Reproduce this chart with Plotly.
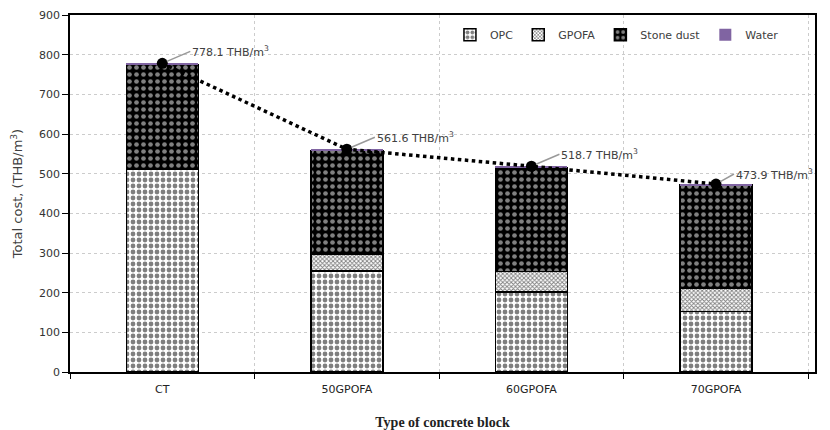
import plotly.graph_objects as go

# Cost breakdown per concrete block type (THB/m3)
blocks = ["CT", "50GPOFA", "60GPOFA", "70GPOFA"]
opc = [512, 255, 202, 152]
gpofa = [0, 42, 51, 60]
stone_dust = [263.5, 262.0, 263.1, 259.3]
water = [2.6, 2.6, 2.6, 2.6]
totals = [778.1, 561.6, 518.7, 473.9]
total_labels = ["778.1 THB/m<sup>3</sup>", "561.6 THB/m<sup>3</sup>",
                "518.7 THB/m<sup>3</sup>", "473.9 THB/m<sup>3</sup>"]

LABEL_FONT = "DejaVu Sans"
TEXT_GREY = "#404040"

fig = go.Figure()

fig.add_trace(go.Bar(
    x=blocks, y=opc, name="OPC",
    marker=dict(color="white", line=dict(color="black", width=1.5),
                pattern=dict(shape=".", fgcolor="black", bgcolor="white",
                             size=6, solidity=0.5)),
))
fig.add_trace(go.Bar(
    x=blocks, y=gpofa, name="GPOFA",
    marker=dict(color="white", line=dict(color="black", width=1.5),
                pattern=dict(shape="x", fgcolor="black", bgcolor="white",
                             size=3, solidity=0.5)),
))
fig.add_trace(go.Bar(
    x=blocks, y=stone_dust, name="Stone dust",
    marker=dict(color="black", line=dict(color="black", width=1.5),
                pattern=dict(shape=".", fgcolor="white", bgcolor="black",
                             size=7, solidity=0.35)),
))
fig.add_trace(go.Bar(
    x=blocks, y=water, name="Water",
    marker=dict(color="#8064A2", line=dict(color="#8064A2", width=0)),
))

fig.add_trace(go.Scatter(
    x=blocks, y=totals, mode="lines+markers",
    line=dict(color="black", width=3.5, dash="dot"),
    marker=dict(color="black", size=11),
    showlegend=False, hoverinfo="skip",
))

offsets = [(28, -12), (28, -12), (28, -12), (18, -10)]
for b, t, lab, (ax, ay) in zip(blocks, totals, total_labels, offsets):
    fig.add_annotation(
        x=b, y=t, text=lab, xanchor="left", yanchor="middle",
        ax=ax, ay=ay, showarrow=True, arrowhead=0, arrowwidth=1.5,
        arrowcolor="#999999", standoff=5,
        font=dict(family=LABEL_FONT, size=11, color=TEXT_GREY),
    )

# page body adds an 8px offset, so the figure is 8px smaller than the window
fig.update_layout(
    barmode="stack",
    bargap=0.61,
    width=822, height=422,
    margin=dict(l=62, r=15, t=7, b=58),
    paper_bgcolor="white",
    plot_bgcolor="white",
    font=dict(family=LABEL_FONT, size=11, color=TEXT_GREY),
    legend=dict(
        orientation="h", traceorder="normal",
        x=0.51, y=0.985, xanchor="left", yanchor="top",
        bgcolor="rgba(0,0,0,0)", font=dict(size=11, color=TEXT_GREY),
        itemwidth=30, tracegroupgap=0,
    ),
)

fig.update_xaxes(
    automargin=False,
    showline=True, linecolor="black", linewidth=1.5, mirror=True,
    ticks="outside", ticklen=5, tickcolor="black", tickson="boundaries",
    ticklabelstandoff=6,
    showgrid=True, gridcolor="#cccccc", griddash="dot", gridwidth=1,
    tickfont=dict(size=11, color="#222222"),
    title=dict(text="<b>Type of concrete block</b>", standoff=26,
               font=dict(family="Liberation Serif", size=14, color="#222222")),
)
fig.update_yaxes(
    automargin=False,
    range=[0, 900], dtick=100,
    showline=True, linecolor="black", linewidth=1.5, mirror=True,
    ticks="outside", ticklen=6, tickcolor="black",
    showgrid=True, gridcolor="#cccccc", griddash="dot", gridwidth=1,
    zeroline=False,
    tickfont=dict(size=11, color="#333333"),
    title=dict(text="Total cost, (THB/m<sup>3</sup>)", standoff=13,
               font=dict(size=13, color=TEXT_GREY)),
)

fig.write_html("out.html")
